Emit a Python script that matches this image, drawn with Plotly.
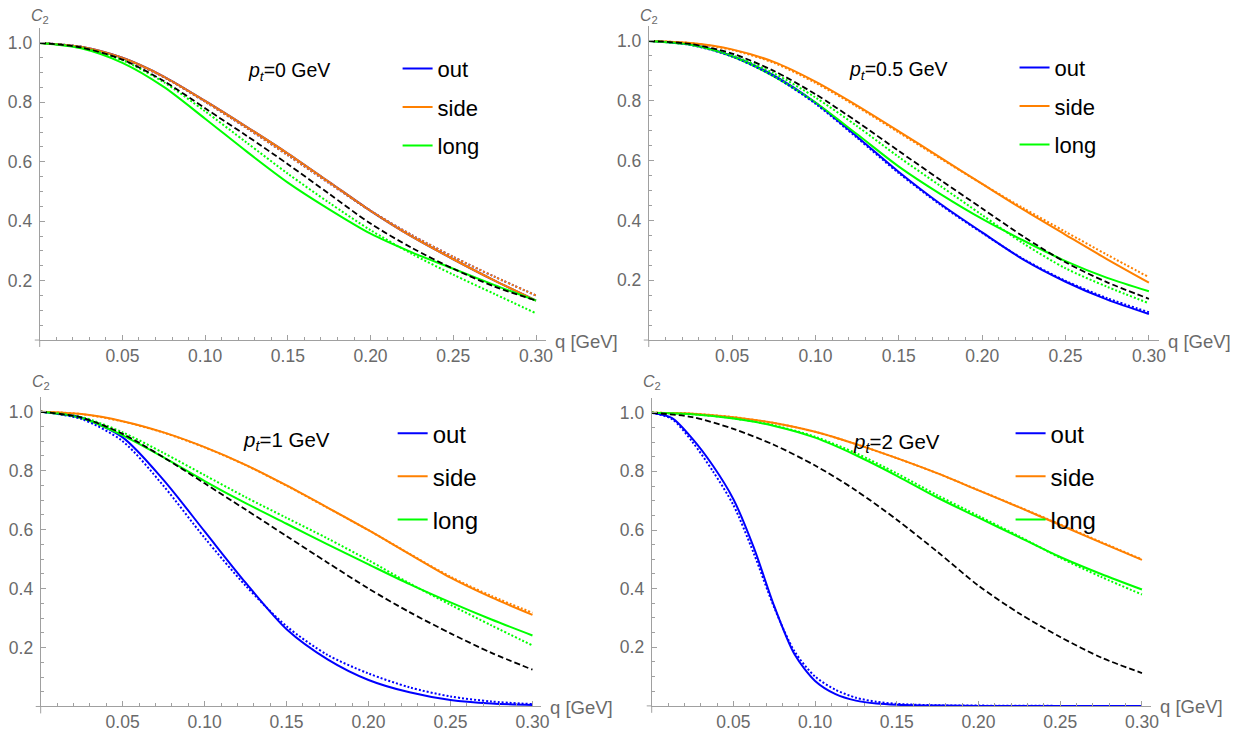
import plotly.graph_objects as go

# ---------------- data ----------------
q = [0.0, 0.025, 0.05, 0.075, 0.10, 0.125, 0.15, 0.175, 0.20, 0.225, 0.25, 0.275, 0.30]
q_fine = [0.0, 0.0125, 0.025, 0.0375, 0.05, 0.0625, 0.075, 0.0875, 0.10, 0.1125,
          0.125, 0.1375, 0.15, 0.175, 0.20, 0.25, 0.30]

# pt = 0 GeV
p0_out_s = [1.000, 0.987, 0.950, 0.887, 0.805, 0.718, 0.628, 0.532, 0.435, 0.348, 0.272, 0.200, 0.133]
p0_out_d = [1.000, 0.987, 0.949, 0.885, 0.802, 0.714, 0.622, 0.528, 0.435, 0.353, 0.280, 0.213, 0.150]
p0_side_s = [1.000, 0.987, 0.950, 0.887, 0.805, 0.718, 0.628, 0.532, 0.435, 0.348, 0.272, 0.200, 0.133]
p0_side_d = [1.000, 0.987, 0.949, 0.885, 0.802, 0.714, 0.622, 0.528, 0.435, 0.353, 0.280, 0.213, 0.150]
p0_long_s = [1.000, 0.982, 0.933, 0.852, 0.745, 0.635, 0.530, 0.440, 0.358, 0.295, 0.240, 0.185, 0.133]
p0_long_d = [1.000, 0.985, 0.942, 0.868, 0.770, 0.665, 0.560, 0.462, 0.370, 0.290, 0.220, 0.155, 0.090]
p0_ref = [1.000, 0.985, 0.944, 0.872, 0.780, 0.688, 0.592, 0.492, 0.392, 0.310, 0.240, 0.180, 0.133]

# pt = 0.5 GeV
p05_out_s = [1.000, 0.988, 0.950, 0.885, 0.794, 0.680, 0.562, 0.455, 0.360, 0.268, 0.195, 0.135, 0.087]
p05_out_d = [1.000, 0.987, 0.948, 0.882, 0.790, 0.676, 0.558, 0.452, 0.358, 0.270, 0.198, 0.140, 0.093]
p05_side_s = [1.000, 0.993, 0.972, 0.930, 0.864, 0.784, 0.698, 0.610, 0.522, 0.435, 0.352, 0.270, 0.192]
p05_side_d = [1.000, 0.993, 0.970, 0.927, 0.860, 0.780, 0.694, 0.607, 0.522, 0.440, 0.362, 0.285, 0.210]
p05_long_s = [1.000, 0.987, 0.948, 0.882, 0.794, 0.688, 0.580, 0.488, 0.405, 0.332, 0.264, 0.208, 0.163]
p05_long_d = [1.000, 0.988, 0.952, 0.892, 0.811, 0.715, 0.612, 0.515, 0.418, 0.322, 0.240, 0.178, 0.123]
p05_ref = [1.000, 0.990, 0.958, 0.900, 0.822, 0.730, 0.632, 0.535, 0.440, 0.345, 0.260, 0.193, 0.138]

# pt = 1 GeV
p1_out_s = [1.000, 0.980, 0.913, 0.768, 0.594, 0.420, 0.262, 0.160, 0.090, 0.048, 0.022, 0.010, 0.005]
p1_out_d = [1.000, 0.975, 0.900, 0.748, 0.572, 0.410, 0.272, 0.175, 0.112, 0.065, 0.034, 0.017, 0.008]
p1_side_s = [1.000, 0.992, 0.968, 0.930, 0.880, 0.820, 0.750, 0.675, 0.598, 0.517, 0.437, 0.370, 0.311]
p1_side_d = [1.000, 0.992, 0.967, 0.929, 0.879, 0.819, 0.749, 0.674, 0.598, 0.518, 0.440, 0.375, 0.318]
p1_long_s = [1.000, 0.978, 0.920, 0.845, 0.765, 0.690, 0.620, 0.550, 0.482, 0.415, 0.353, 0.295, 0.241]
p1_long_d = [1.000, 0.982, 0.930, 0.860, 0.785, 0.710, 0.640, 0.570, 0.496, 0.418, 0.345, 0.275, 0.207]
p1_ref = [1.000, 0.980, 0.925, 0.845, 0.757, 0.668, 0.578, 0.488, 0.400, 0.320, 0.248, 0.182, 0.125]

# pt = 2 GeV (out sampled on q_fine)
p2_out_s = [1.000, 0.982, 0.911, 0.819, 0.705, 0.540, 0.340, 0.175, 0.085, 0.040, 0.018, 0.008, 0.004, 0.001, 0.0, 0.0, 0.0]
p2_out_d = [1.000, 0.978, 0.900, 0.800, 0.685, 0.520, 0.335, 0.185, 0.100, 0.055, 0.028, 0.014, 0.007, 0.002, 0.001, 0.0, 0.0]
p2_side_s = [1.000, 0.997, 0.985, 0.965, 0.935, 0.893, 0.845, 0.793, 0.735, 0.677, 0.617, 0.557, 0.498]
p2_side_d = [1.000, 0.997, 0.985, 0.965, 0.935, 0.893, 0.845, 0.793, 0.736, 0.678, 0.619, 0.559, 0.500]
p2_long_s = [1.000, 0.995, 0.980, 0.955, 0.915, 0.855, 0.785, 0.710, 0.642, 0.575, 0.508, 0.450, 0.397]
p2_long_d = [1.000, 0.995, 0.981, 0.957, 0.918, 0.862, 0.793, 0.718, 0.648, 0.578, 0.505, 0.440, 0.380]
p2_ref = [1.000, 0.985, 0.945, 0.890, 0.820, 0.735, 0.635, 0.525, 0.410, 0.315, 0.235, 0.165, 0.112]

pt_labels = ["0", "0.5", "1", "2"]
series_names = ["out", "side", "long"]
x_tick_vals = [0.05, 0.10, 0.15, 0.20, 0.25, 0.30]
x_tick_text = ["0.05", "0.10", "0.15", "0.20", "0.25", "0.30"]
y_tick_vals = [0.2, 0.4, 0.6, 0.8, 1.0]
y_tick_text = ["0.2", "0.4", "0.6", "0.8", "1.0"]
x_minor = [i / 100 for i in range(1, 31)]
y_minor = [i / 20 for i in range(1, 21)]

# ---------------- style ----------------
PAGE_W, PAGE_H = 1253, 740
OFF = 8                      # default body margin of the html page
W, H = PAGE_W - 2 * OFF, PAGE_H - 2 * OFF
BLUE = "#0000ff"
ORANGE = "#ff8000"
GREEN = "#00ff00"
AXIS = "#a0a0a0"
LABEL = "#6a6a6a"
FONT = "Liberation Sans, Arial, sans-serif"


def fx(px):
    return (px - OFF) / W


def fy(py):
    return 1 - (py - OFF) / H


panels = [
    dict(qo=q, out=(p0_out_s, p0_out_d), side=(p0_side_s, p0_side_d), long=(p0_long_s, p0_long_d), ref=p0_ref,
         px=(35, 546.7), py=(343.3, 28.3), xr=0.3058, leg=(397, 48), lfs=22, ptc=(287, 72), ptfs=19.5, c2y=17),
    dict(qo=q, out=(p05_out_s, p05_out_d), side=(p05_side_s, p05_side_d), long=(p05_long_s, p05_long_d), ref=p05_ref,
         px=(651, 1166.7), py=(343.3, 26.2), xr=0.3058, leg=(1021, 47), lfs=22, ptc=(904, 71), ptfs=19.5, c2y=17),
    dict(qo=q, out=(p1_out_s, p1_out_d), side=(p1_side_s, p1_side_d), long=(p1_long_s, p1_long_d), ref=p1_ref,
         px=(36, 541.7), py=(713.3, 400.8), xr=0.305, leg=(392, 415), lfs=24, ptc=(285, 445), ptfs=20.5, c2y=386),
    dict(qo=q_fine, out=(p2_out_s, p2_out_d), side=(p2_side_s, p2_side_d), long=(p2_long_s, p2_long_d), ref=p2_ref,
         px=(654, 1159.3), py=(712.7, 401.9), xr=0.3057, leg=(1017, 415), lfs=24, ptc=(902, 447), ptfs=20.5, c2y=386),
]

fig = go.Figure()
colors = {"out": BLUE, "side": ORANGE, "long": GREEN}

for i, p in enumerate(panels):
    n = "" if i == 0 else str(i + 1)
    xa, ya = "x" + n, "y" + n
    legname = "legend" + n
    for name in series_names:
        xs = p["qo"] if name == "out" else q
        fig.add_trace(go.Scatter(x=xs, y=p[name][0], mode="lines", name=name,
                                 line=dict(color=colors[name], width=2, shape="spline", smoothing=0.8),
                                 xaxis=xa, yaxis=ya, legend=legname, showlegend=True,
                                 legendgroup=name + n, hoverinfo="skip"))
    for name in series_names:
        xs = p["qo"] if name == "out" else q
        fig.add_trace(go.Scatter(x=xs, y=p[name][1], mode="lines", name=name + " (dotted)",
                                 line=dict(color=colors[name], width=2, dash="2px,2px", shape="spline", smoothing=0.8),
                                 xaxis=xa, yaxis=ya, showlegend=False, hoverinfo="skip"))
    fig.add_trace(go.Scatter(x=q, y=p["ref"], mode="lines", name="reference",
                             line=dict(color="black", width=1.8, dash="6px,3px", shape="spline", smoothing=0.8),
                             xaxis=xa, yaxis=ya, showlegend=False, hoverinfo="skip"))

    x0, x1 = p["px"]
    yb, yt = p["py"]
    fig.layout["xaxis" + n] = dict(
        domain=[fx(x0), fx(x1)], range=[0, p["xr"]], anchor=ya,
        showline=True, linecolor=AXIS, linewidth=1, showgrid=False, zeroline=False,
        ticks="inside", ticklen=5, tickcolor=AXIS, tickwidth=1,
        tickmode="array", tickvals=x_tick_vals, ticktext=x_tick_text,
        tickfont=dict(family=FONT, size=17.5, color=LABEL),
        minor=dict(tickmode="array", tickvals=x_minor, ticks="inside", ticklen=3, tickcolor=AXIS, showgrid=False),
        fixedrange=True)
    fig.layout["yaxis" + n] = dict(
        domain=[fy(yb), fy(yt)], range=[0, 1.05], anchor=xa,
        showline=True, linecolor=AXIS, linewidth=1, showgrid=False, zeroline=False,
        ticks="inside", ticklen=5, tickcolor=AXIS, tickwidth=1,
        tickmode="array", tickvals=y_tick_vals, ticktext=y_tick_text,
        tickfont=dict(family=FONT, size=17.5, color=LABEL), ticklabelstandoff=3,
        minor=dict(tickmode="array", tickvals=y_minor, ticks="inside", ticklen=3, tickcolor=AXIS, showgrid=False),
        fixedrange=True)
    lx, ly = p["leg"]
    fig.layout[legname] = dict(x=fx(lx), y=fy(ly), xanchor="left", yanchor="top",
                               bgcolor="rgba(0,0,0,0)", borderwidth=0,
                               font=dict(family=FONT, size=p["lfs"], color="black"),
                               tracegroupgap=7 if i < 2 else 9, itemwidth=30)
    cx, cy = p["ptc"]
    fig.add_annotation(x=fx(cx), y=fy(cy), xref="paper", yref="paper", showarrow=False,
                       text="<i>p</i><sub><i>t</i></sub>=" + pt_labels[i] + " GeV",
                       font=dict(family=FONT, size=p["ptfs"], color="black"),
                       xanchor="center", yanchor="middle")
    fig.add_annotation(x=fx(x0), y=fy(p["c2y"]), xref="paper", yref="paper", showarrow=False,
                       text="<i>C</i><sub>2</sub>", font=dict(family=FONT, size=16, color=LABEL),
                       xanchor="center", yanchor="middle")
    fig.add_annotation(x=fx(x1 + 7), y=fy(yb + 1), xref="paper", yref="paper", showarrow=False,
                       text="q [GeV]", font=dict(family=FONT, size=18.5, color=LABEL),
                       xanchor="left", yanchor="middle")
    # small extensions of the axes past the origin (Mathematica style)
    fig.add_shape(type="line", xref="paper", yref="paper", x0=fx(x0), x1=fx(x0), y0=fy(yb), y1=fy(yb + 7),
                  line=dict(color=AXIS, width=1))
    fig.add_shape(type="line", xref="paper", yref="paper", x0=fx(x0 - 5), x1=fx(x0), y0=fy(yb), y1=fy(yb),
                  line=dict(color=AXIS, width=1))

fig.update_layout(width=W, height=H, margin=dict(l=0, r=0, t=0, b=0),
                  paper_bgcolor="white", plot_bgcolor="white", autosize=False,
                  font=dict(family=FONT))

fig.write_html("out.html")
